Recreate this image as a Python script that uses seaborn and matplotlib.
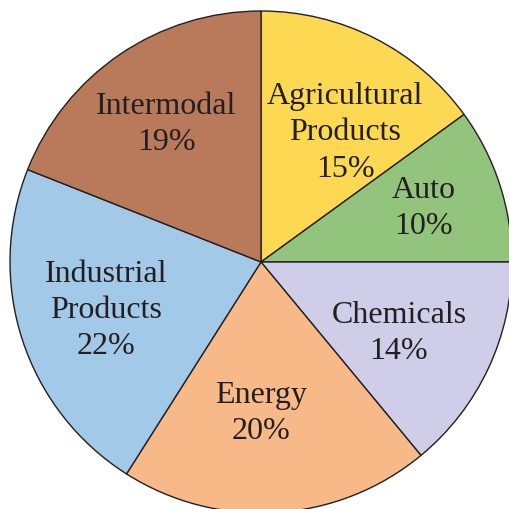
import matplotlib
matplotlib.use("Agg")
import matplotlib.pyplot as plt
import seaborn as sns

sns.set_theme(style="white")
plt.rcParams['font.family'] = ['Liberation Serif', 'DejaVu Serif']

categories = ["Agricultural\nProducts", "Auto", "Chemicals", "Energy",
              "Industrial\nProducts", "Intermodal"]
shares = [15, 10, 14, 20, 22, 19]
colors = ["#FDD853", "#93C47D", "#CFCDE8", "#F6B987", "#A3C9E9", "#B97A5C"]
# label anchor offsets (in radius units) for each wedge's text
label_pos = [(0.335, 0.518), (0.649, 0.219), (0.55, -0.279), (0.0, -0.598),
             (-0.618, -0.191), (-0.378, 0.550)]

fig = plt.figure(figsize=(5.09, 5.10), dpi=100)
ax = fig.add_axes([0, 0, 1, 1])
ax.pie(shares, colors=colors, startangle=90, counterclock=False,
       radius=1.0,
       wedgeprops=dict(edgecolor="#231F20", linewidth=1.0))

for cat, val, (x, y) in zip(categories, shares, label_pos):
    ax.text(x, y, f"{cat}\n{val}%", ha="center", va="center",
            fontsize=23, color="#231F20", linespacing=1.32)

r = 251.0
cx, cy = 261.0, 263.0
ax.set_xlim(-cx / r, (509 - cx) / r)
ax.set_ylim(-(510 - cy) / r, cy / r)
ax.set_aspect("equal")
ax.axis("off")
fig.savefig("out.png", dpi=100)
